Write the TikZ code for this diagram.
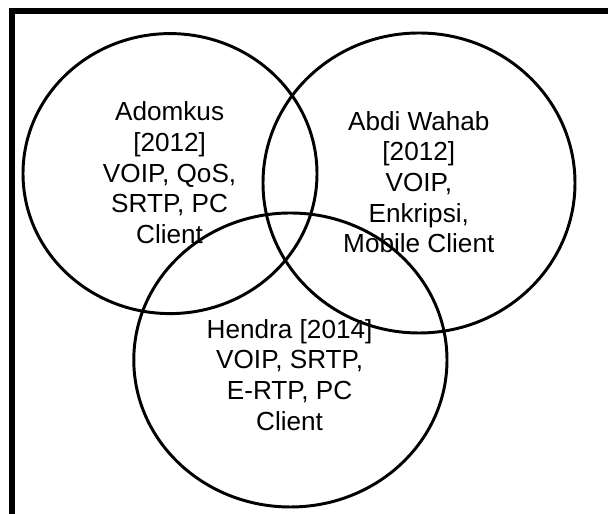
\documentclass[tikz,border=0pt]{standalone}
\usepackage{fontspec}
\setmainfont{Liberation Sans}
\usetikzlibrary{shapes.geometric}

\begin{document}
\begin{tikzpicture}[
  set/.style={ellipse,draw=black,line width=2.1pt,inner sep=0pt},
  lbl/.style={align=center,inner sep=0pt,font=\fontsize{18.6}{21.8}\selectfont},
  frame/.style={draw=black,line width=3.6pt}]
\useasboundingbox (0,0) rectangle (15.2,12.85);
\draw[frame] (0.3,-0.2) -- (0.3,12.575) -- (15.4,12.575);

% the three overlapping sets
\node[set,minimum width=7.35cm,minimum height=7.00cm] (setA) at (4.25,8.51) {};
\node[set,minimum width=7.80cm,minimum height=7.50cm] (setB) at (10.475,8.275) {};
\node[set,minimum width=7.83cm,minimum height=7.35cm] (setC) at (7.26,3.85) {};

\node[lbl] (adomkus) at (4.24,8.53) {Adomkus\\{[2012]}\\VOIP, QoS,\\SRTP, PC\\Client};
\node[lbl] (wahab) at (10.47,8.295) {Abdi Wahab\\{[2012]}\\VOIP,\\Enkripsi,\\Mobile Client};
\node[lbl] (hendra) at (7.24,3.48) {Hendra [2014]\\VOIP, SRTP,\\E-RTP, PC\\Client};
\end{tikzpicture}
\end{document}
